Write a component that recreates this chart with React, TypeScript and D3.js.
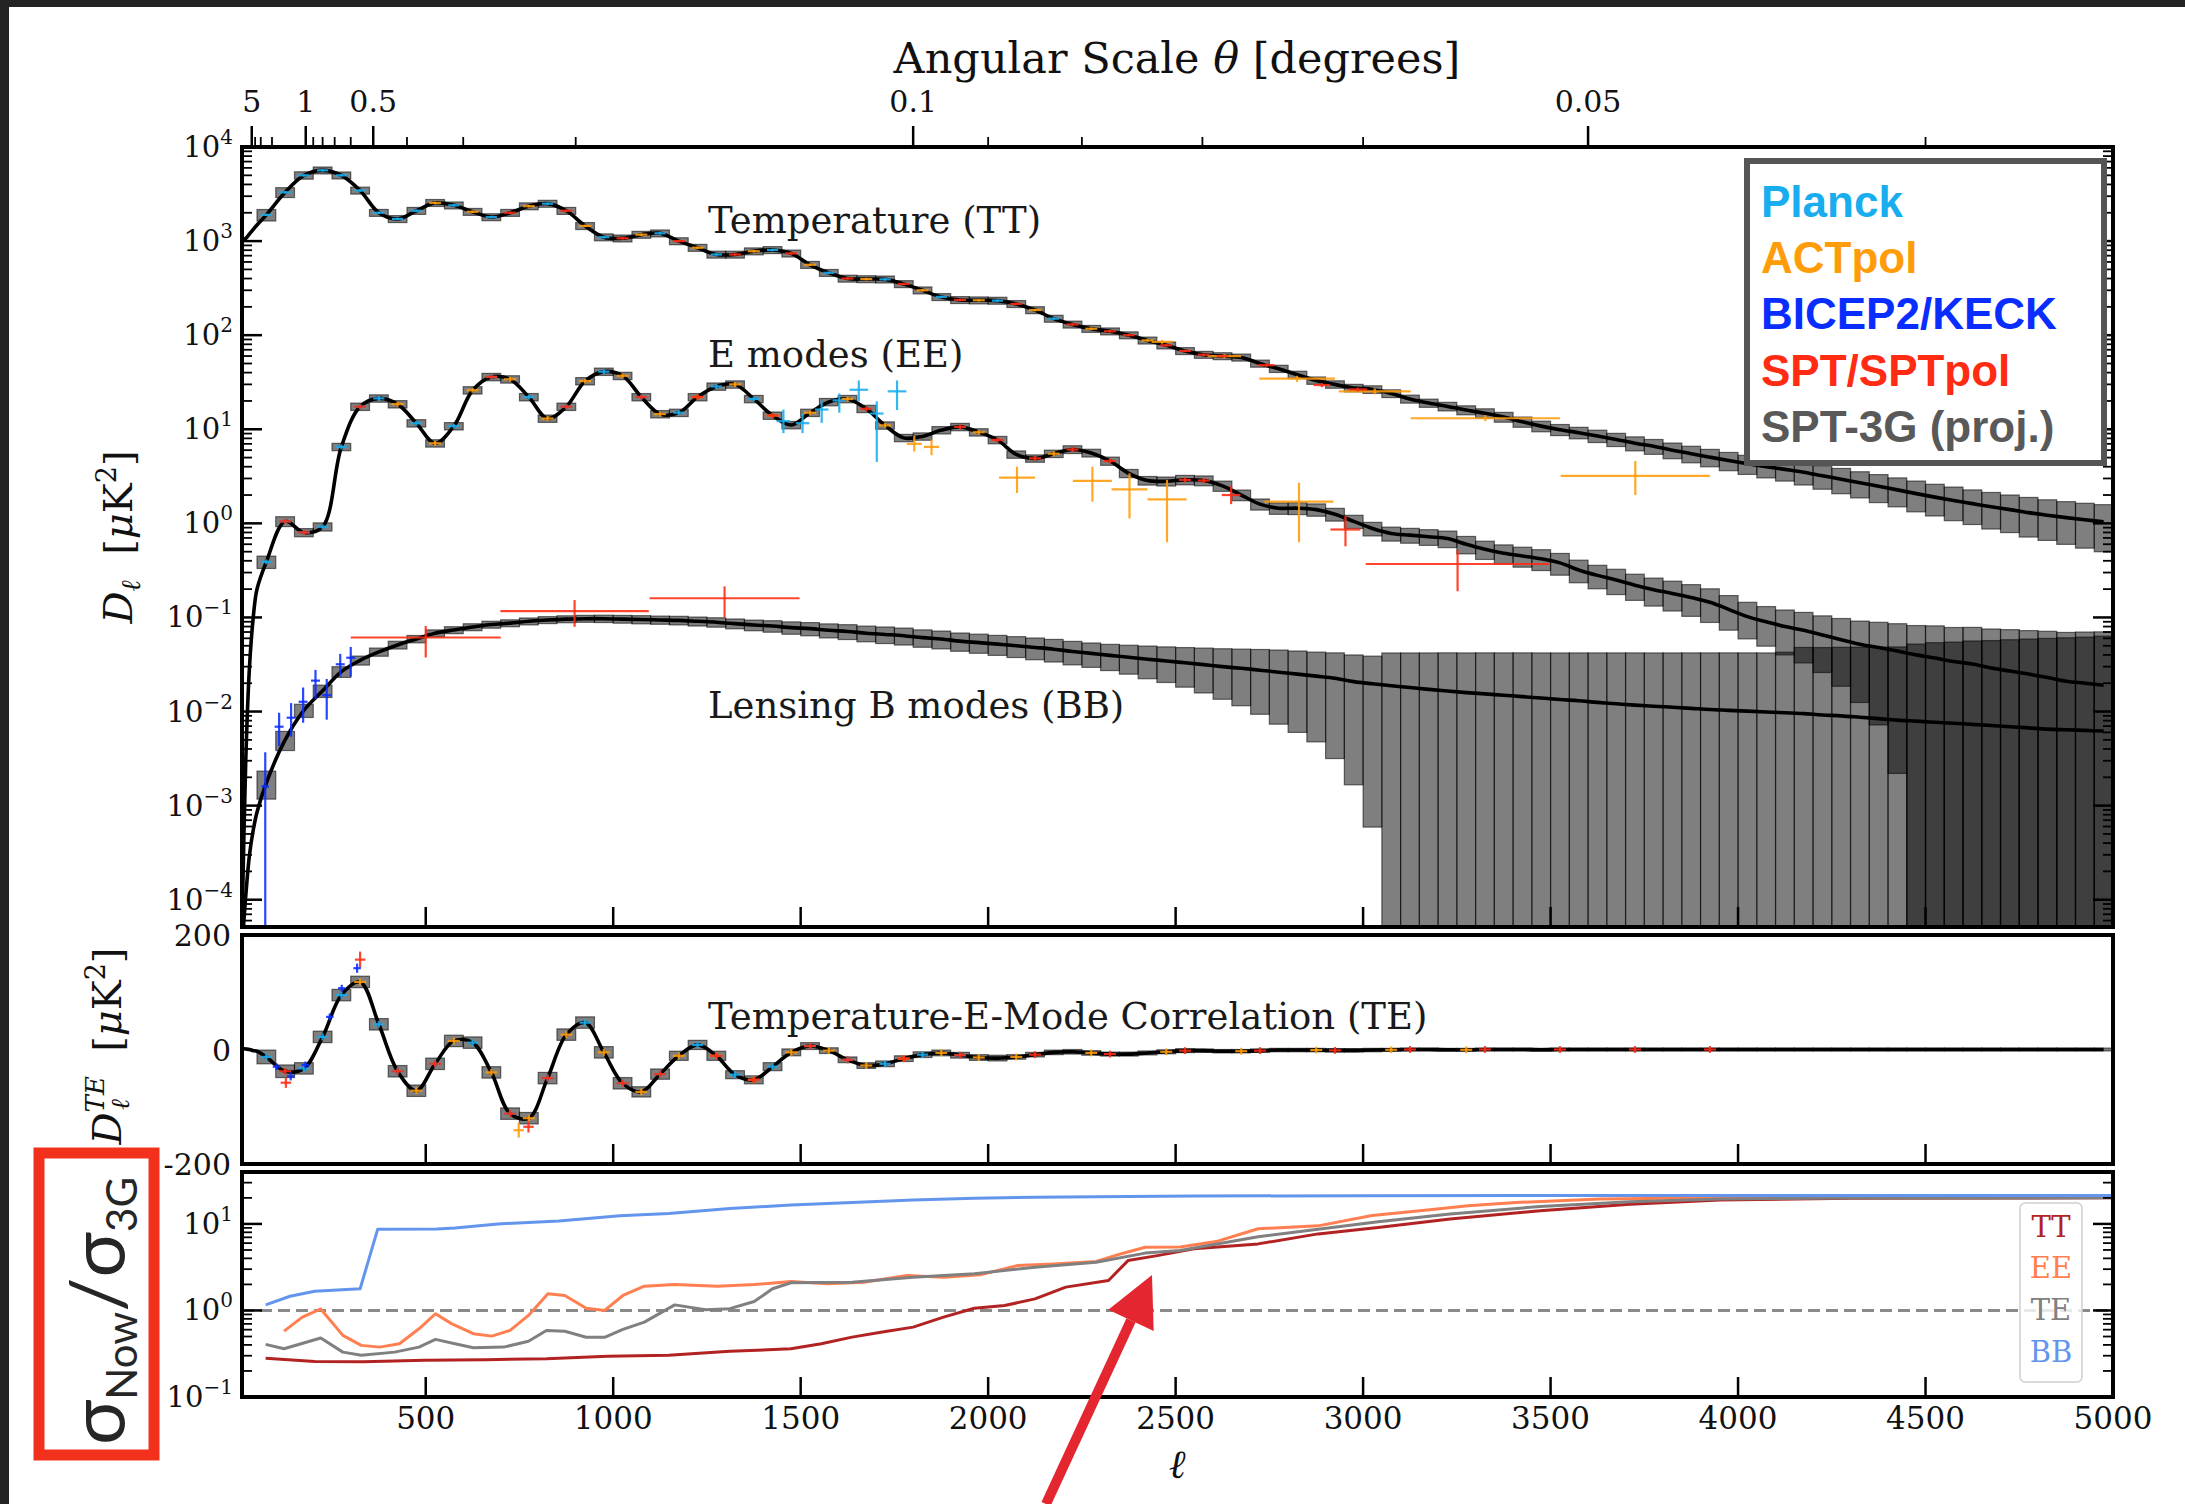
import React from "react";
import * as d3 from "d3";

// ---------------- data ----------------
// SPT-3G projected bandpower bin centres (Δℓ = 50)
const binEll = [
  75, 125, 175, 225, 275, 325, 375, 425, 475, 525,
  575, 625, 675, 725, 775, 825, 875, 925, 975, 1025,
  1075, 1125, 1175, 1225, 1275, 1325, 1375, 1425, 1475, 1525,
  1575, 1625, 1675, 1725, 1775, 1825, 1875, 1925, 1975, 2025,
  2075, 2125, 2175, 2225, 2275, 2325, 2375, 2425, 2475, 2525,
  2575, 2625, 2675, 2725, 2775, 2825, 2875, 2925, 2975, 3025,
  3075, 3125, 3175, 3225, 3275, 3325, 3375, 3425, 3475, 3525,
  3575, 3625, 3675, 3725, 3775, 3825, 3875, 3925, 3975, 4025,
  4075, 4125, 4175, 4225, 4275, 4325, 4375, 4425, 4475, 4525,
  4575, 4625, 4675, 4725, 4775, 4825, 4875, 4925, 4975,
];
// extra low-ℓ points of the model curves
const lowEll = [10, 20, 30, 40, 50];

// Temperature (TT), D_ℓ in μK²
const ttLow = [1000, 1070, 1190, 1330, 1480];
const ttBin = [
  1900, 3300, 5000, 5650, 5000, 3450, 2000, 1720, 2100, 2550,
  2400, 2050, 1800, 2000, 2350, 2500, 2100, 1450, 1100, 1070,
  1170, 1210, 1000, 850, 720, 720, 780, 805, 740, 560,
  460, 400, 395, 392, 350, 300, 255, 237, 235, 233,
  215, 185, 150, 130, 117, 110, 100, 88, 78, 68,
  62, 60, 58, 50, 44, 38, 33, 30, 27.5, 26.5,
  24, 21, 19, 17.5, 16, 14.8, 13.5, 12, 10.8, 9.9,
  9.2, 8.5, 7.8, 7.1, 6.6, 6.0, 5.5, 5.05, 4.65, 4.3,
  4.0, 3.75, 3.5, 3.2, 2.95, 2.7, 2.48, 2.27, 2.07, 1.9,
  1.75, 1.62, 1.5, 1.4, 1.3, 1.22, 1.15, 1.09, 1.04,
];
const ttFracErr = [
  0.14, 0.12, 0.09, 0.085, 0.085, 0.085, 0.085, 0.085, 0.085, 0.085,
  0.085, 0.085, 0.085, 0.085, 0.085, 0.085, 0.085, 0.085, 0.085, 0.085,
  0.085, 0.085, 0.085, 0.085, 0.085, 0.085, 0.085, 0.085, 0.085, 0.085,
  0.085, 0.085, 0.085, 0.085, 0.085, 0.085, 0.085, 0.085, 0.085, 0.085,
  0.085, 0.085, 0.085, 0.085, 0.085, 0.085, 0.085, 0.085, 0.085, 0.085,
  0.085, 0.085, 0.086, 0.087, 0.088, 0.089, 0.09, 0.091, 0.092, 0.093,
  0.095, 0.098, 0.1, 0.105, 0.11, 0.115, 0.12, 0.125, 0.13, 0.135,
  0.14, 0.15, 0.16, 0.17, 0.18, 0.19, 0.2, 0.21, 0.22, 0.23,
  0.24, 0.25, 0.27, 0.28, 0.3, 0.31, 0.33, 0.34, 0.36, 0.37,
  0.39, 0.4, 0.42, 0.43, 0.45, 0.46, 0.48, 0.5, 0.52,
];

// E modes (EE)
const eeLow = [0.00005, 0.003, 0.03, 0.1, 0.2];
const eeBin = [
  0.39, 1.05, 0.8, 0.92, 6.5, 17.4, 21.3, 18.5, 11.6, 7.1,
  10.8, 26, 36, 34, 22, 13, 17.4, 32.5, 41, 37,
  22, 14.5, 15, 22, 28.5, 30, 21, 14, 11.1, 15,
  19.5, 21, 16.5, 11, 8.1, 8.4, 9.8, 10.6, 9.3, 7.7,
  5.4, 4.9, 5.5, 6.1, 5.6, 4.6, 3.4, 2.85, 2.8, 2.9,
  2.85, 2.5, 2.0, 1.6, 1.45, 1.45, 1.4, 1.25, 1.05, 0.88,
  0.78, 0.75, 0.72, 0.69, 0.6, 0.53, 0.48, 0.45, 0.42, 0.38,
  0.32, 0.28, 0.25, 0.22, 0.197, 0.18, 0.163, 0.145, 0.122, 0.102,
  0.09, 0.08, 0.073, 0.065, 0.058, 0.052, 0.048, 0.044, 0.04, 0.037,
  0.034, 0.032, 0.029, 0.027, 0.025, 0.023, 0.021, 0.02, 0.019,
];
const eeFracErr = [
  0.15, 0.12, 0.1, 0.1, 0.09, 0.09, 0.09, 0.09, 0.09, 0.09,
  0.09, 0.09, 0.09, 0.09, 0.09, 0.09, 0.09, 0.09, 0.09, 0.09,
  0.09, 0.09, 0.09, 0.09, 0.09, 0.09, 0.09, 0.09, 0.09, 0.09,
  0.09, 0.09, 0.09, 0.09, 0.09, 0.09, 0.09, 0.09, 0.09, 0.09,
  0.09, 0.09, 0.09, 0.095, 0.095, 0.1, 0.1, 0.105, 0.11, 0.115,
  0.12, 0.125, 0.13, 0.135, 0.14, 0.145, 0.15, 0.155, 0.16, 0.165,
  0.17, 0.18, 0.19, 0.2, 0.21, 0.22, 0.23, 0.24, 0.25, 0.26,
  0.27, 0.28, 0.3, 0.31, 0.33, 0.35, 0.37, 0.39, 0.4, 0.42,
  0.45, 0.5, 0.55, 0.6, 0.68, 0.76, 0.85, 0.95, 1.05, 1.2,
  1.3, 1.45, 1.6, 1.75, 1.9, 2.1, 2.3, 2.5, 2.7,
];

// Lensing B modes (BB)
const bbLow = [0.00003, 0.00011, 0.0003, 0.00055, 0.00085];
const bbBin = [
  0.00175, 0.005, 0.0103, 0.0166, 0.0265, 0.035, 0.043, 0.051, 0.059, 0.068,
  0.0735, 0.079, 0.084, 0.087, 0.091, 0.094, 0.096, 0.097, 0.097, 0.096,
  0.095, 0.094, 0.093, 0.091, 0.089, 0.086, 0.083, 0.081, 0.078, 0.076,
  0.073, 0.071, 0.068, 0.066, 0.064, 0.061, 0.059, 0.056, 0.054, 0.052,
  0.05, 0.048, 0.046, 0.0435, 0.0415, 0.0395, 0.0378, 0.036, 0.0345, 0.033,
  0.0315, 0.03, 0.0288, 0.0275, 0.0262, 0.025, 0.0238, 0.0226, 0.0208, 0.0197,
  0.0188, 0.018, 0.0172, 0.0165, 0.0159, 0.0154, 0.0149, 0.0144, 0.0139, 0.0134,
  0.013, 0.0125, 0.0121, 0.0117, 0.0114, 0.0111, 0.0108, 0.0105, 0.0103, 0.0101,
  0.0099, 0.0097, 0.0095, 0.0092, 0.009, 0.0087, 0.0084, 0.0081, 0.0079, 0.0077,
  0.0075, 0.0073, 0.0071, 0.0069, 0.0067, 0.0065, 0.0064, 0.0063, 0.0062,
];
const bbFracErr = [
  0.33, 0.23, 0.16, 0.15, 0.13, 0.11, 0.1, 0.095, 0.09, 0.085,
  0.085, 0.085, 0.085, 0.085, 0.085, 0.085, 0.085, 0.085, 0.09, 0.095,
  0.1, 0.1, 0.105, 0.11, 0.115, 0.12, 0.13, 0.14, 0.15, 0.16,
  0.17, 0.18, 0.19, 0.2, 0.205, 0.21, 0.215, 0.22, 0.23, 0.24,
  0.25, 0.26, 0.27, 0.28, 0.29, 0.31, 0.34, 0.38, 0.41, 0.45,
  0.5, 0.55, 0.6, 0.66, 0.72, 0.76, 0.8, 0.86, 0.92, 0.97,
  1.23, 1.33, 1.44, 1.55, 1.64, 1.73, 1.82, 1.92, 2.02, 2.13,
  2.23, 2.36, 2.47, 2.59, 2.68, 2.78, 2.89, 3.0, 3.08, 3.16,
  3.24, 3.4, 4.05, 4.2, 4.35, 4.55, 4.75, 5.0, 5.6, 6.0,
  6.3, 6.7, 7.0, 7.4, 7.8, 8.2, 8.5, 8.8, 9.2,
];

// Temperature-E-mode correlation (TE), μK²
const teLow = [2, 1, 0, -2, -3];
const teBin = [
  -13, -38, -33, 22, 95, 118, 44, -38, -72, -25,
  15, 12, -40, -112, -120, -50, 26, 47, -5, -59,
  -74, -43, -11, 8, -11, -44, -53, -30, -5, 6,
  -2, -18, -28, -25, -16, -9, -6, -10, -14, -15,
  -13, -9, -5, -4, -6, -8, -8, -6, -4, -2,
  -2, -3, -3, -2, -1, -1, -1, -1.5, -1.5, -1,
  -0.5, 0, 0, -0.5, -0.5, 0, 0, 0, -0.5, 0,
  0, 0, 0, 0, 0, 0, 0, 0, 0, 0,
  0, 0, 0, 0, 0, 0, 0, 0, 0, 0,
  0, 0, 0, 0, 0, 0, 0, 0, 0,
];
const teErr = [
  12, 11, 10, 10, 10, 10, 10, 10, 10, 10,
  10, 10, 10, 10, 10, 10, 10, 10, 10, 10,
  9, 9, 8, 8, 8, 7, 7, 7, 6, 6,
  5, 5, 5, 5, 5, 5, 5, 5, 5, 5,
  4, 4, 4, 4, 4, 3.5, 3.5, 3.5, 3.5, 3.5,
  3, 3, 3, 3, 3, 3, 3, 3, 3, 3,
  2.5, 2.5, 2.5, 2.5, 2.5, 2.5, 2.5, 2.5, 2.5, 2.5,
  2.5, 2.5, 2.5, 2.5, 2.5, 2.5, 2.5, 2.5, 2.5, 2.5,
  2.5, 2.5, 2.5, 2.5, 2.5, 2.5, 2.5, 2.5, 2.5, 2.5,
  2.5, 2.5, 2.5, 2.5, 2.5, 2.5, 2.5, 2.5, 2.5,
];

// current-experiment bandpowers lying on the model (bins used by each experiment)
const planckTTEll = [75, 125, 175, 225, 275, 325, 375, 425, 475, 575, 675, 825, 975, 1125, 1275, 1425, 1575, 1725, 1875, 2025, 2175];
const actTTEll = [525, 625, 775, 925, 1075, 1225, 1375, 1525, 1675, 1825, 1975, 2125, 2275, 2425];
const sptTTEll = [725, 875, 1025, 1175, 1325, 1475, 1625, 1775, 1925, 2075, 2225, 2325, 2375, 2475, 2525, 2575, 2625];
const planckEEEll = [75, 125, 175, 225, 275, 325, 375, 475, 575, 675, 775, 875, 975, 1075, 1175, 1275, 1375];
const actEEEll = [425, 525, 625, 725, 825, 925, 1025, 1125, 1225, 1325, 1425, 1525, 1625, 1725, 1975, 2175];
const sptEEEll = [125, 175, 325, 675, 875, 1075, 1225, 1425, 1675, 1925, 2025, 2125, 2225, 2325, 2525, 2575];
const planckTEEll = [75, 175, 225, 275, 375, 425, 525, 625, 725, 825, 925, 1025, 1125, 1225, 1325, 1425, 1525, 1625, 1725, 1825, 1925];
const actTEEll = [325, 475, 575, 675, 775, 875, 975, 1075, 1175, 1275, 1375, 1475, 1575, 1675, 1775, 1875, 1975, 2075, 2275, 2475, 2675, 2875, 3075, 3275];
const sptTEEll = [125, 425, 525, 725, 825, 1025, 1125, 1275, 1375, 1525, 1625, 1775, 1925, 2125, 2325, 2525, 2725, 2925, 3125, 3325, 3525, 3725, 3925];

// individual bandpowers: [ℓ, D_ℓ, ℓ half-width, lower, upper]
const planckEEPoints = [
  [1454, 12.2, 18, 9.1, 16.2], [1505, 11.6, 18, 9.1, 14.7], [1556, 16.2, 18, 11.7, 19.8],
  [1603, 20.3, 18, 15, 24], [1655, 26.3, 25, 19.8, 33], [1703, 14.7, 18, 4.5, 19.8], [1757, 25.3, 25, 16, 33],
];
const actEEPoints = [
  [1803, 7.0, 20, 5.8, 8.5], [1849, 6.5, 20, 5.3, 7.8], [2077, 3.06, 48, 2.1, 4.0], [2278, 2.83, 52, 1.7, 4.0],
  [2377, 2.3, 48, 1.13, 3.4], [2477, 1.8, 52, 0.63, 2.9], [2829, 1.7, 92, 0.63, 2.7],
];
const sptEEPoints = [[2648, 2.0, 25, 1.6, 2.5], [2953, 0.86, 40, 0.57, 1.2], [3252, 0.37, 245, 0.19, 0.52]];
const actTTPoints = [
  [2464, 85, 28, 81, 89], [2630, 60, 45, 57, 63], [2824, 34.5, 101, 32, 37],
  [3031, 25.3, 96, 23.5, 27.2], [3326, 13.1, 199, 12.2, 14.1], [3726, 3.2, 199, 2.0, 4.6],
];
const sptTTPoints = [[2742, 48, 22, 46, 50], [2890, 29.5, 22, 28, 31], [2986, 26.5, 25, 25.3, 27.7]];
const sptBBPoints = [[500, 0.0612, 200, 0.0375, 0.081], [897, 0.117, 198, 0.0795, 0.153], [1297, 0.16, 200, 0.1, 0.214]];
const bicepBBPoints = [
  [72, 0.0016, 10, 0, 0.0037], [109, 0.0069, 12, 0.0043, 0.0097], [141, 0.0086, 12, 0.0054, 0.0123],
  [173, 0.0127, 12, 0.0076, 0.018], [206, 0.0213, 12, 0.0136, 0.0277], [236, 0.0149, 12, 0.0082, 0.0222],
  [272, 0.0318, 12, 0.0235, 0.041], [300, 0.0373, 12, 0.0235, 0.0486],
];
const sptTEPoints = [[325, 157, 14, 143, 171], [127, -58, 14, -67, -49], [774, -135, 14, -145, -125]];
const actTEPoints = [[748, -141, 14, -154, -128]];
const bicepTEPoints = [
  [102, -30, 10, -36, -24], [140, -47, 10, -54, -40], [179, -27, 10, -33, -21],
  [244, 57, 10, 51, 63], [276, 107, 10, 101, 113], [317, 142, 10, 134, 150],
];

// σ_Now / σ_3G : [ℓ, ratio]
const ratioTT = [
  [73, 0.281], [204, 0.258], [334, 0.255], [497, 0.265], [660, 0.27], [822, 0.277], [985, 0.295],
  [1148, 0.303], [1311, 0.337], [1474, 0.361], [1555, 0.413], [1637, 0.492], [1718, 0.563], [1800, 0.642],
  [1881, 0.837], [1963, 1.06], [2044, 1.14], [2125, 1.36], [2207, 1.86], [2321, 2.22], [2373, 3.77],
  [2451, 4.3], [2549, 5.15], [2720, 5.88], [2880, 7.67], [3040, 9.1], [3232, 11.4], [3472, 14.2],
  [3712, 16.9], [3952, 18.9], [4300, 19.8], [5000, 20.0],
];
const ratioEE = [
  [122, 0.577], [171, 0.837], [220, 1.04], [279, 0.515], [328, 0.395], [377, 0.377], [430, 0.413],
  [482, 0.614], [526, 0.916], [570, 0.7], [627, 0.539], [676, 0.505], [725, 0.588], [774, 0.876],
  [826, 1.56], [871, 1.49], [928, 1.06], [977, 1.0], [1026, 1.49], [1083, 1.91], [1164, 1.99],
  [1278, 1.91], [1376, 1.99], [1474, 2.16], [1572, 2.03], [1669, 2.12], [1783, 2.53], [1881, 2.42],
  [1979, 2.58], [2077, 3.3], [2174, 3.45], [2288, 3.68], [2353, 4.5], [2419, 5.37], [2512, 5.4],
  [2608, 6.25], [2720, 8.8], [2880, 9.5], [3024, 12.5], [3152, 14.2], [3280, 16.2], [3408, 17.7],
  [3632, 19.4], [3872, 19.9], [4200, 20.2], [5000, 20.3],
];
const ratioTE = [
  [73, 0.406], [122, 0.361], [220, 0.48], [279, 0.33], [328, 0.303], [417, 0.33], [482, 0.377],
  [526, 0.463], [578, 0.413], [627, 0.37], [708, 0.377], [774, 0.44], [822, 0.588], [871, 0.575],
  [928, 0.49], [977, 0.49], [1026, 0.604], [1083, 0.733], [1164, 1.16], [1246, 1.02], [1311, 1.05],
  [1376, 1.27], [1425, 1.78], [1474, 2.09], [1637, 2.12], [1800, 2.42], [1963, 2.65], [2125, 3.16],
  [2288, 3.6], [2419, 4.6], [2512, 4.93], [2720, 7.1], [2880, 8.7], [3040, 10.6], [3232, 13.0],
  [3472, 15.9], [3712, 18.0], [3952, 19.4], [4300, 19.9], [5000, 20.0],
];
const ratioBB = [
  [73, 1.16], [138, 1.46], [204, 1.67], [325, 1.78], [372, 8.7], [529, 8.76], [578, 9.0], [692, 10.0],
  [855, 10.8], [1018, 12.4], [1148, 13.2], [1311, 15.1], [1474, 16.5], [1637, 17.7], [1800, 18.9],
  [1963, 19.8], [2125, 20.3], [2288, 20.6], [2549, 21.0], [3000, 21.2], [4000, 21.3], [5000, 21.3],
];

// axis ticks
const ellTicks = [500, 1000, 1500, 2000, 2500, 3000, 3500, 4000, 4500, 5000];
const thetaMajor = [5, 1, 0.5, 0.1, 0.05];
const thetaMinor = [4, 3, 2, 0.9, 0.8, 0.7, 0.6, 0.4, 0.3, 0.2, 0.09, 0.08, 0.07, 0.06, 0.04];
const mainDecades = [-4, -3, -2, -1, 0, 1, 2, 3, 4];
const ratioDecades = [-1, 0, 1];
const teTickLabels = [200, 0, -200];

const legendNames = ["Planck", "ACTpol", "BICEP2/KECK", "SPT/SPTpol", "SPT-3G (proj.)"];
const ratioNames = ["TT", "EE", "TE", "BB"];

// ---------------- drawing ----------------
const W = 2185;
const H = 1504;
const PL = 242;
const PR = 2113;
const MAIN_TOP = 147;
const MAIN_BOT = 927;
const TE_TOP = 935;
const TE_BOT = 1164;
const RAT_TOP = 1172;
const RAT_BOT = 1397;

const SERIF = "'DejaVu Serif', serif";
const SANS = "'Liberation Sans', Arial, sans-serif";

const C_PLANCK = "#17adee";
const C_ACT = "#ff9c0a";
const C_BICEP = "#0a2dff";
const C_SPT = "#ff2b12";
const C_3G = "#595959";
const C_RATIO = ["#b22222", "#ff7f50", "#808080", "#6495ed"];

export default function App() {
  const x = d3.scaleLinear().domain([10, 5000]).range([PL, PR]);
  const yMain = d3.scaleLog().domain([Math.pow(10, -4.29), 1e4]).range([MAIN_BOT, MAIN_TOP]);
  const yTE = d3.scaleLinear().domain([-200, 200]).range([TE_BOT, TE_TOP]);
  const yRat = d3.scaleLog().domain([0.1, Math.pow(10, 1.6)]).range([RAT_BOT, RAT_TOP]);
  const floor = 1e-7;
  const half = 25;
  const lg = (v: number) => yMain(Math.max(v, floor));

  const knots = (low: number[], bins: number[]) =>
    [...lowEll.map((l, i) => [l, low[i]]), ...binEll.map((l, i) => [l, bins[i]])];

  const mainLine = d3
    .line<any>()
    .x((d) => x(d[0]))
    .y((d) => lg(d[1]))
    .curve(d3.curveCatmullRom.alpha(0.5));
  const teLine = d3
    .line<any>()
    .x((d) => x(d[0]))
    .y((d) => yTE(d[1]))
    .curve(d3.curveCatmullRom.alpha(0.5));
  const ratLine = d3
    .line<any>()
    .x((d) => x(d[0]))
    .y((d) => yRat(d[1]));

  const logBoxes = (vals: number[], frac: number[], k: string) =>
    binEll.map((l, i) => {
      const v = vals[i];
      const s = v * frac[i];
      const top = lg(v + s);
      const bot = lg(v - s);
      return (
        <rect key={k + i} x={x(l - half)} y={top} width={x(l + half) - x(l - half)} height={Math.max(bot - top, 0.5)} />
      );
    });
  const teBoxes = binEll.map((l, i) => {
    const top = yTE(teBin[i] + teErr[i]);
    const bot = yTE(teBin[i] - teErr[i]);
    return <rect key={"te" + i} x={x(l - half)} y={top} width={x(l + half) - x(l - half)} height={bot - top} />;
  });

  const cross = (k: string, l: number, v: number, dl: number, lo: number, hi: number, yS: (n: number) => number) => (
    <g key={k}>
      <line x1={x(l - dl)} x2={x(l + dl)} y1={yS(v)} y2={yS(v)} />
      <line x1={x(l)} x2={x(l)} y1={yS(lo)} y2={yS(hi)} />
    </g>
  );
  const onLog = (ells: number[], vals: number[], dl: number, rel: number, k: string) =>
    ells.map((l) => {
      const v = vals[binEll.indexOf(l)];
      return cross(k + l, l, v, dl, v * (1 - rel), v * (1 + rel), lg);
    });
  const onTE = (ells: number[], dl: number, k: string) =>
    ells.map((l) => {
      const v = teBin[binEll.indexOf(l)];
      return cross(k + l, l, v, dl, v - 6, v + 6, yTE);
    });
  const pts = (arr: number[][], yS: (n: number) => number, k: string) =>
    arr.map((p, i) => cross(k + i, p[0], p[1], p[2], p[3], p[4], yS));

  const crossGroup = (color: string, children: any, k: string) => (
    <g key={k} stroke={color} strokeWidth={2.2} fill="none" strokeOpacity={0.88}>
      {children}
    </g>
  );

  // log tick helpers
  const minorLog = (lo: number, hi: number, eFrom: number, eTo: number) => {
    const out: number[] = [];
    for (let e = eFrom; e <= eTo; e++) {
      for (let m = 2; m <= 9; m++) {
        const v = m * Math.pow(10, e);
        if (v > lo && v < hi) out.push(v);
      }
    }
    return out;
  };
  const mainMinor = minorLog(Math.pow(10, -4.29), 1e4, -5, 3);
  const ratMinor = minorLog(0.1, Math.pow(10, 1.6), -1, 1);

  const powLabel = (e: number, yc: number, k: string) => (
    <text key={k} x={233} y={yc + 10} textAnchor="end" fontFamily={SERIF} fontSize={29} fill="#111">
      10
      <tspan fontSize={20} dy={-13}>
        {e < 0 ? "\u2212" + Math.abs(e) : String(e)}
      </tspan>
    </text>
  );

  const yTicks = (yS: (n: number) => number, majors: number[], minors: number[], k: string) => (
    <g key={k} stroke="#000" strokeWidth={2.5}>
      {majors.map((v, i) => (
        <g key={"M" + i}>
          <line x1={PL} x2={PL + 20} y1={yS(v)} y2={yS(v)} />
          <line x1={PR} x2={PR - 20} y1={yS(v)} y2={yS(v)} />
        </g>
      ))}
      {minors.map((v, i) => (
        <g key={"m" + i} strokeWidth={1.8}>
          <line x1={PL} x2={PL + 10} y1={yS(v)} y2={yS(v)} />
          <line x1={PR} x2={PR - 10} y1={yS(v)} y2={yS(v)} />
        </g>
      ))}
    </g>
  );
  const ellInnerTicks = (yb: number, k: string) => (
    <g key={k} stroke="#000" strokeWidth={2.5}>
      {ellTicks
        .filter((t) => t < 5000)
        .map((t) => (
          <line key={t} x1={x(t)} x2={x(t)} y1={yb} y2={yb - 20} />
        ))}
    </g>
  );

  const legendY = [217, 273, 329, 386, 442];
  const legendColors = [C_PLANCK, C_ACT, C_BICEP, C_SPT, C_3G];
  const ratioLegendY = [1237, 1278, 1320, 1362];

  // arrow geometry (annotation)
  const tip = [1152, 1275];
  const tail = [1046, 1504];
  const ux = tip[0] - tail[0];
  const uy = tip[1] - tail[1];
  const ul = Math.hypot(ux, uy);
  const u = [ux / ul, uy / ul];
  const nrm = [-u[1], u[0]];
  const headLen = 50;
  const headHalf = 25;
  const base = [tip[0] - u[0] * headLen, tip[1] - u[1] * headLen];
  const headPts = [
    tip,
    [base[0] + nrm[0] * headHalf, base[1] + nrm[1] * headHalf],
    [base[0] - nrm[0] * headHalf, base[1] - nrm[1] * headHalf],
  ]
    .map((p) => p.join(","))
    .join(" ");

  return (
    <svg
      width={W}
      height={H}
      viewBox={`0 0 ${W} ${H}`}
      style={{ position: "absolute", left: 0, top: 0, display: "block" }}
      fontFamily={SERIF}
    >
      <defs>
        <clipPath id="clipMain">
          <rect x={PL} y={MAIN_TOP} width={PR - PL} height={MAIN_BOT - MAIN_TOP} />
        </clipPath>
        <clipPath id="clipTE">
          <rect x={PL} y={TE_TOP} width={PR - PL} height={TE_BOT - TE_TOP} />
        </clipPath>
        <clipPath id="clipRat">
          <rect x={PL} y={RAT_TOP} width={PR - PL} height={RAT_BOT - RAT_TOP} />
        </clipPath>
      </defs>

      <rect x={0} y={0} width={W} height={H} fill="#232323" />
      <rect x={9} y={7} width={W - 9} height={H - 7} fill="#ffffff" />

      {/* title and top angular axis */}
      <text x={1177} y={73} textAnchor="middle" fontSize={43} fill="#111">
        Angular Scale <tspan fontStyle="italic">θ</tspan> [degrees]
      </text>
      <g stroke="#000" strokeWidth={2.5}>
        {thetaMajor.map((t) => (
          <line key={t} x1={x(180 / t)} x2={x(180 / t)} y1={MAIN_TOP} y2={MAIN_TOP - 21} />
        ))}
        {thetaMinor.map((t) => (
          <line key={t} x1={x(180 / t)} x2={x(180 / t)} y1={MAIN_TOP} y2={MAIN_TOP - 10} strokeWidth={1.8} />
        ))}
      </g>
      {thetaMajor.map((t) => (
        <text key={t} x={x(180 / t)} y={112} textAnchor="middle" fontSize={30} fill="#111">
          {String(t)}
        </text>
      ))}

      {/* main panel: TT, EE, BB */}
      <g clipPath="url(#clipMain)">
        <g fill="#000" fillOpacity={0.5} stroke="#000" strokeOpacity={0.55} strokeWidth={1.2}>
          {logBoxes(ttBin, ttFracErr, "tt")}
          {logBoxes(eeBin, eeFracErr, "ee")}
          {logBoxes(bbBin, bbFracErr, "bb")}
        </g>
        <g fill="none" stroke="#000" strokeWidth={3.6} strokeLinejoin="round">
          <path d={mainLine(knots(ttLow, ttBin)) || ""} />
          <path d={mainLine(knots(eeLow, eeBin)) || ""} />
          <path d={mainLine(knots(bbLow, bbBin)) || ""} />
        </g>
        {crossGroup(C_PLANCK, [onLog(planckTTEll, ttBin, 15, 0.03, "pt"), onLog(planckEEEll, eeBin, 15, 0.06, "pe"), pts(planckEEPoints, lg, "pep")], "cp")}
        {crossGroup(C_ACT, [onLog(actTTEll, ttBin, 16, 0.03, "at"), onLog(actEEEll, eeBin, 16, 0.06, "ae"), pts(actEEPoints, lg, "aep"), pts(actTTPoints, lg, "atp")], "ca")}
        {crossGroup(C_SPT, [onLog(sptTTEll, ttBin, 16, 0.03, "st"), onLog(sptEEEll, eeBin, 16, 0.06, "se"), pts(sptEEPoints, lg, "sep"), pts(sptTTPoints, lg, "stp"), pts(sptBBPoints, lg, "sbp")], "cs")}
        {crossGroup(C_BICEP, pts(bicepBBPoints, lg, "bbp"), "cb")}
      </g>
      {yTicks(yMain, mainDecades.map((e) => Math.pow(10, e)), mainMinor, "mainTicks")}
      {ellInnerTicks(MAIN_BOT, "mainX")}
      <rect x={PL} y={MAIN_TOP} width={PR - PL} height={MAIN_BOT - MAIN_TOP} fill="none" stroke="#000" strokeWidth={4} />
      {mainDecades.map((e) => powLabel(e, yMain(Math.pow(10, e)), "pl" + e))}

      <g fontSize={37} fill="#1a1a1a">
        <text x={708} y={233}>Temperature (TT)</text>
        <text x={708} y={367}>E modes (EE)</text>
        <text x={708} y={718}>Lensing B modes (BB)</text>
        <text x={708} y={1029}>Temperature-E-Mode Correlation (TE)</text>
      </g>

      {/* experiment legend */}
      <rect x={1747} y={161} width={357} height={302} fill="#fff" stroke="#555" strokeWidth={6} />
      {legendNames.map((n, i) => (
        <text key={n} x={1761} y={legendY[i]} fontFamily={SANS} fontWeight="bold" fontSize={44} fill={legendColors[i]}>
          {n}
        </text>
      ))}

      {/* TE panel */}
      <g clipPath="url(#clipTE)">
        <g fill="#000" fillOpacity={0.5} stroke="#000" strokeOpacity={0.55} strokeWidth={1.2}>
          {teBoxes}
        </g>
        <path d={teLine(knots(teLow, teBin)) || ""} fill="none" stroke="#000" strokeWidth={3.6} />
        {crossGroup(C_PLANCK, onTE(planckTEEll, 15, "ptE"), "tp")}
        {crossGroup(C_ACT, [onTE(actTEEll, 16, "atE"), pts(actTEPoints, yTE, "atp2")], "ta")}
        {crossGroup(C_SPT, [onTE(sptTEEll, 16, "stE"), pts(sptTEPoints, yTE, "stp2")], "ts")}
        {crossGroup(C_BICEP, pts(bicepTEPoints, yTE, "btp"), "tb")}
      </g>
      {ellInnerTicks(TE_BOT, "teX")}
      <rect x={PL} y={TE_TOP} width={PR - PL} height={TE_BOT - TE_TOP} fill="none" stroke="#000" strokeWidth={4} />
      {teTickLabels.map((v) => (
        <text key={v} x={231} y={yTE(v) + 11} textAnchor="end" fontSize={30} fill="#111">
          {v < 0 ? "-" + Math.abs(v) : String(v)}
        </text>
      ))}

      {/* ratio panel */}
      <g clipPath="url(#clipRat)">
        <line x1={PL} x2={PR} y1={yRat(1)} y2={yRat(1)} stroke="#8a8a8a" strokeWidth={3} strokeDasharray="12 6" />
        {[ratioTT, ratioEE, ratioTE, ratioBB].map((r, i) => (
          <path key={i} d={ratLine(r) || ""} fill="none" stroke={C_RATIO[i]} strokeWidth={3} strokeLinejoin="round" />
        ))}
      </g>
      {yTicks(yRat, ratioDecades.map((e) => Math.pow(10, e)), ratMinor, "ratTicks")}
      {ellInnerTicks(RAT_BOT, "ratX")}
      <rect x={PL} y={RAT_TOP} width={PR - PL} height={RAT_BOT - RAT_TOP} fill="none" stroke="#000" strokeWidth={4} />
      {ratioDecades.map((e) => powLabel(e, yRat(Math.pow(10, e)), "rl" + e))}
      <rect x={2020} y={1203} width={62} height={179} rx={5} fill="#fff" fillOpacity={0.8} stroke="#d0d0d0" strokeWidth={1.5} />
      {ratioNames.map((n, i) => (
        <text key={n} x={2051} y={ratioLegendY[i]} textAnchor="middle" fontSize={29} fill={C_RATIO[i]}>
          {n}
        </text>
      ))}

      {/* ℓ axis labels */}
      {ellTicks.map((t) => (
        <text key={t} x={x(t)} y={1429} textAnchor="middle" fontSize={31} fill="#111">
          {String(t)}
        </text>
      ))}
      <text x={1177} y={1478} textAnchor="middle" fontSize={40} fontStyle="italic" fill="#111">
        ℓ
      </text>

      {/* y-axis titles */}
      <text transform="translate(132,537) rotate(-90)" textAnchor="middle" fontSize={40} fill="#111">
        <tspan fontStyle="italic">D</tspan>
        <tspan fontStyle="italic" fontSize={27} dy={8}>
          ℓ
        </tspan>
        <tspan dy={-8}>{"\u00a0\u00a0["}</tspan>
        <tspan fontStyle="italic">μ</tspan>
        <tspan>K</tspan>
        <tspan fontSize={27} dy={-16}>
          2
        </tspan>
        <tspan dy={16}>]</tspan>
      </text>
      <text transform="translate(121,1046) rotate(-90)" textAnchor="middle" fontSize={40} fill="#111">
        <tspan fontStyle="italic">D</tspan>
        <tspan fontStyle="italic" fontSize={26} dy={-17}>
          TE
        </tspan>
        <tspan fontStyle="italic" fontSize={26} dx={-34} dy={25}>
          ℓ
        </tspan>
        <tspan dx={22} dy={-8}>{"\u00a0\u00a0["}</tspan>
        <tspan fontStyle="italic">μ</tspan>
        <tspan>K</tspan>
        <tspan fontSize={27} dy={-16}>
          2
        </tspan>
        <tspan dy={16}>]</tspan>
      </text>

      {/* highlighted ratio label */}
      <rect x={39} y={1153} width={115} height={302} fill="none" stroke="#f2301c" strokeWidth={11} />
      <text transform="translate(125,1311) rotate(-90)" textAnchor="middle" fontFamily="Lato, 'Open Sans', sans-serif" fontSize={76} fill="#262626">
        σ
        <tspan fontSize={42} dy={12}>
          Now
        </tspan>
        <tspan dy={-12}>/σ</tspan>
        <tspan fontSize={42} dy={12}>
          3G
        </tspan>
      </text>

      {/* pointer arrow */}
      <line x1={tail[0]} y1={tail[1]} x2={base[0]} y2={base[1]} stroke="#e3262f" strokeWidth={10} />
      <polygon points={headPts} fill="#e3262f" />
    </svg>
  );
}
